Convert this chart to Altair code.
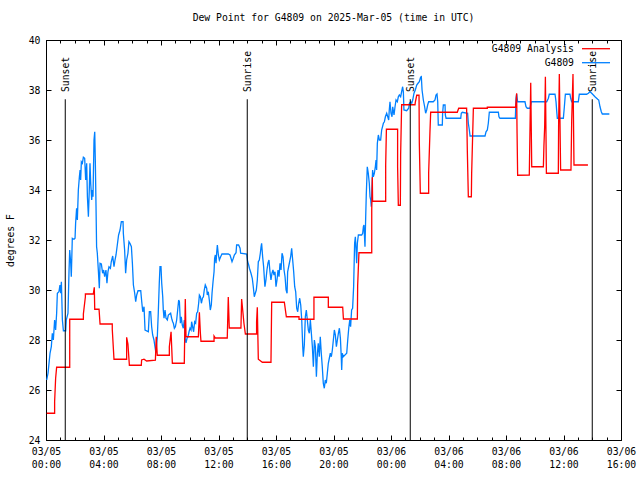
import altair as alt
import pandas as pd

# ---------------- data (hours since 2025-03-05 00:00 UTC, dew point in F) -------------
blue_hours = [
    0.05, 0.14, 0.28, 0.37, 0.44, 0.51, 0.60, 0.67, 0.74, 0.79, 0.90, 0.97, 1.02, 1.07, 1.14,
    1.21, 1.37, 1.41, 1.53, 1.60, 1.65, 1.72, 1.76, 1.83, 1.95, 2.02, 2.06, 2.13, 2.18, 2.25,
    2.32, 2.37, 2.41, 2.46, 2.53, 2.60, 2.69, 2.76, 2.83, 2.88, 2.95, 3.01, 3.06, 3.11, 3.18,
    3.22, 3.27, 3.34, 3.39, 3.43, 3.48, 3.52, 3.57, 3.64, 3.71, 3.76, 3.85, 3.94, 4.01, 4.08,
    4.17, 4.24, 4.31, 4.38, 4.48, 4.54, 4.64, 4.73, 4.80, 4.87, 4.96, 5.05, 5.15, 5.24, 5.36,
    5.38, 5.47, 5.54, 5.61, 5.70, 5.77, 5.84, 5.94, 6.01, 6.08, 6.17, 6.24, 6.31, 6.40, 6.59,
    6.66, 6.73, 6.82, 6.89, 7.12, 7.19, 7.28, 7.35, 7.42, 7.51, 7.58, 7.65, 7.70, 7.74, 7.81,
    7.88, 7.93, 8.00, 8.05, 8.12, 8.16, 8.21, 8.28, 8.35, 8.44, 8.51, 8.67, 8.74, 8.81, 8.86,
    8.93, 9.00, 9.09, 9.16, 9.23, 9.28, 9.35, 9.41, 9.48, 9.55, 9.62, 9.69, 9.74, 9.81, 9.88,
    9.95, 10.02, 10.09, 10.13, 10.20, 10.27, 10.34, 10.41, 10.48, 10.55, 10.62, 10.67, 10.74,
    10.81, 10.88, 10.95, 11.01, 11.08, 11.18, 11.22, 11.29, 11.36, 11.43, 11.50, 11.55, 11.62,
    11.69, 11.73, 11.78, 11.83, 11.87, 11.92, 11.99, 12.06, 12.15, 12.24, 12.68, 12.80, 12.87,
    12.94, 13.03, 13.10, 13.22, 13.26, 13.40, 13.50, 13.54, 13.96, 14.03, 14.10, 14.15, 14.19,
    14.26, 14.35, 14.42, 14.49, 14.56, 14.63, 14.70, 14.77, 14.84, 14.91, 14.96, 15.00, 15.07,
    15.14, 15.19, 15.23, 15.30, 15.37, 15.44, 15.51, 15.58, 15.65, 15.72, 15.79, 15.86, 15.93,
    16.00, 16.07, 16.14, 16.21, 16.28, 16.35, 16.42, 16.49, 16.56, 16.63, 16.70, 16.77, 16.81,
    16.88, 16.95, 17.02, 17.09, 17.16, 17.23, 17.30, 17.37, 17.44, 17.51, 17.58, 17.65, 17.72,
    17.79, 17.86, 17.90, 17.97, 18.04, 18.11, 18.18, 18.25, 18.32, 18.39, 18.46, 18.53, 18.60,
    18.67, 18.74, 18.81, 18.88, 18.94, 19.01, 19.08, 19.15, 19.22, 19.29, 19.36, 19.43, 19.50,
    19.57, 19.64, 19.71, 19.78, 19.85, 19.92, 19.99, 20.06, 20.13, 20.20, 20.27, 20.34, 20.41,
    20.48, 20.54, 20.57, 20.61, 20.68, 20.92, 20.99, 21.06, 21.13, 21.19, 21.26, 21.33, 21.40,
    21.45, 21.47, 21.52, 21.57, 21.61, 21.66, 21.73, 21.96, 22.03, 22.08, 22.12, 22.19, 22.24,
    22.28, 22.35, 22.42, 22.49, 22.54, 22.59, 22.63, 22.68, 22.72, 22.77, 22.84, 22.91, 22.96,
    23.00, 23.05, 23.12, 23.19, 23.28, 23.35, 23.47, 23.54, 23.61, 23.70, 23.84, 23.88, 23.93,
    24.00, 24.07, 24.12, 24.21, 24.28, 24.35, 24.44, 24.51, 24.58, 24.67, 24.74, 24.81, 24.86,
    24.90, 25.09, 25.23, 25.28, 25.37, 25.44, 25.51, 25.60, 25.69, 25.79, 25.88, 25.97, 26.06,
    26.11, 26.16, 26.25, 26.34, 26.41, 26.48, 26.55, 26.62, 26.94, 27.06, 27.13, 27.20, 27.25,
    27.29, 27.57, 27.59, 27.64, 27.76, 27.78, 27.83, 28.85, 28.89, 28.96, 29.33, 29.38, 29.45,
    29.50, 30.54, 30.61, 30.70, 30.77, 30.84, 31.47, 31.51, 31.58, 32.65, 32.70, 32.74, 32.81,
    33.32, 33.39, 33.48, 33.67, 33.76, 34.83, 34.95, 35.01, 35.41, 35.48, 35.53, 35.57, 35.99,
    36.06, 36.13, 36.45, 36.50, 36.57, 37.03, 37.10, 37.61, 37.73, 37.84, 37.96, 38.19, 38.38,
    38.45, 38.54, 38.63, 38.70, 39.19,
]
blue_values = [
    26.40, 26.67, 27.47, 27.73, 28.27, 28.00, 28.80, 28.40, 29.07, 29.87, 29.93, 30.20, 29.87, 30.33, 28.80,
    28.37, 28.37, 28.80, 29.07, 30.73, 31.60, 31.07, 30.53, 32.07, 32.03, 32.07, 32.67, 33.27, 32.80, 34.00,
    34.51, 34.80, 34.40, 35.13, 35.07, 35.31, 35.27, 34.40, 35.07, 33.73, 32.93, 34.00, 35.07, 34.27, 33.60,
    34.00, 33.73, 36.00, 36.33, 35.20, 33.33, 31.73, 31.47, 30.80, 30.07, 31.07, 31.04, 30.67, 30.80, 30.53,
    30.80, 30.27, 30.73, 30.93, 30.87, 31.13, 31.36, 30.93, 31.20, 31.40, 31.80, 32.20, 32.40, 32.73, 32.73,
    32.27, 31.60, 30.67, 31.20, 31.47, 31.93, 31.87, 31.73, 31.07, 30.20, 29.87, 29.53, 29.80, 29.97, 29.97,
    29.53, 29.13, 29.33, 28.40, 28.33, 29.13, 29.13, 28.53, 28.20, 28.00, 27.73, 27.47, 27.87, 28.07, 29.07,
    30.27, 30.93, 30.93, 30.27, 29.73, 29.20, 28.87, 29.20, 28.87, 28.80, 29.00, 29.07, 28.87, 28.73, 28.67,
    28.47, 28.53, 28.80, 29.20, 29.60, 29.53, 28.67, 28.93, 28.60, 28.47, 28.80, 28.00, 27.89, 28.07, 28.13,
    28.33, 28.47, 28.40, 28.73, 28.53, 28.33, 28.73, 28.67, 29.07, 29.13, 29.47, 29.80, 29.73,
    29.47, 29.67, 29.73, 30.00, 30.20, 30.07, 29.80, 29.93, 29.60, 29.20, 29.40, 29.87, 30.33,
    30.73, 31.27, 31.40, 31.07, 31.47, 31.80, 31.40, 31.20, 31.33, 31.44, 31.44, 31.40, 31.27,
    31.13, 31.27, 31.40, 31.49, 31.80, 31.80, 31.67, 31.47, 31.44, 31.13, 31.00, 30.87, 30.80,
    30.67, 30.47, 30.13, 29.73, 29.87, 30.00, 30.40, 31.13, 31.20, 31.47, 31.73, 31.87, 31.33,
    30.93, 30.47, 30.13, 30.40, 30.80, 31.07, 31.20, 30.73, 30.40, 30.67, 30.80, 30.60, 30.73,
    30.13, 30.40, 30.80, 30.53, 31.07, 30.80, 31.47, 31.33, 30.80, 30.53, 30.00, 29.87, 30.73,
    30.93, 31.13, 31.33, 31.67, 31.20, 30.73, 30.13, 29.93, 29.27, 29.13, 29.47, 29.67, 29.40,
    28.80, 27.73, 27.33, 27.80, 28.93, 29.20, 28.80, 28.40, 28.27, 28.80, 28.27, 27.73, 26.93,
    28.00, 27.73, 26.53, 27.47, 27.87, 27.33, 28.13, 27.47, 26.93, 26.27, 26.07, 26.40, 26.27,
    26.67, 27.07, 27.27, 27.47, 27.33, 27.60, 28.00, 28.40, 28.20, 27.73, 28.00, 28.27, 28.47,
    28.07, 27.33, 26.80, 27.47, 27.33, 27.47, 28.00, 28.47, 28.80, 28.53, 29.20, 29.27, 30.13,
    31.40, 31.87, 32.13, 31.60, 31.07, 31.87, 32.20, 32.20, 32.27, 32.53, 32.60, 31.73, 32.93,
    33.80, 34.93, 34.67, 34.27, 33.73, 33.60, 33.33, 34.13, 34.80, 34.53, 34.67, 34.93, 35.20,
    34.80, 35.87, 36.20, 36.00, 36.00, 36.40, 36.67, 36.73, 36.93, 37.07, 36.80, 37.20, 37.53,
    37.07, 36.93, 37.33, 37.00, 37.33, 37.60, 37.53, 37.73, 37.80, 37.73, 37.93, 38.13, 37.93,
    37.20, 37.17, 37.27, 37.47, 37.53, 37.47, 37.60, 37.87, 38.00, 38.20, 38.27, 38.33, 38.51,
    38.53, 38.00, 37.60, 37.33, 37.07, 37.20, 37.40, 37.53, 37.53, 37.60, 37.80, 37.84, 37.53,
    36.60, 36.60, 37.07, 37.40, 37.40, 37.00, 36.87, 36.87, 37.07, 37.11, 37.07, 36.67, 36.40,
    36.16, 36.16, 36.33, 36.40, 36.67, 37.11, 37.11, 36.93, 36.87, 36.87, 37.67, 37.84, 37.53,
    37.53, 37.33, 37.27, 37.27, 37.53, 37.53, 37.67, 37.83, 37.83, 37.53, 37.13, 36.87, 36.87,
    37.33, 37.83, 37.83, 37.67, 37.53, 37.53, 37.83, 37.83, 37.87, 37.93, 37.87, 37.73, 37.63,
    37.60, 37.33, 37.13, 37.04, 37.04,
]

red_hours = [
    0.05, 0.60, 0.60, 0.67, 0.74, 1.65, 1.65, 2.60, 2.60, 2.74, 2.74, 3.29, 3.36, 3.39, 3.69,
    3.76, 4.61, 4.61, 4.73, 5.61, 5.61, 5.70, 5.80, 6.63, 6.65, 6.82, 7.00, 7.61, 7.67, 7.74,
    8.58, 8.58, 8.70, 8.79, 9.62, 9.69, 9.74, 10.60, 10.67, 10.74, 10.78, 11.69, 11.69, 11.78,
    12.61, 12.68, 12.75, 13.56, 13.61, 13.77, 13.87, 14.65, 14.65, 14.70, 14.77, 15.05, 15.65,
    15.70, 16.58, 16.72, 17.60, 17.60, 18.64, 18.64, 19.64, 19.64, 20.64, 20.69, 21.66, 21.68,
    21.77, 22.66, 22.66, 22.70, 22.72, 23.63, 23.63, 23.68, 24.46, 24.46, 24.51, 24.65, 24.67,
    24.74, 25.67, 25.69, 25.79, 25.95, 25.97, 26.04, 26.62, 26.62, 26.71, 26.76, 28.61, 28.71,
    29.26, 29.31, 29.38, 29.59, 29.61, 29.73, 30.70, 30.70, 32.67, 32.74, 32.77, 32.81, 33.62,
    33.67, 33.72, 33.79, 34.60, 34.64, 34.69, 34.74, 34.81, 35.64, 35.66, 35.71, 35.80, 36.52,
    36.57, 36.66, 36.73, 37.70,
]
red_values = [
    25.07, 25.07, 25.53, 26.47, 26.91, 26.91, 28.83, 28.83, 29.04, 29.73, 29.84, 29.84, 30.11, 29.23, 29.23,
    28.64, 28.64, 28.43, 27.23, 27.23, 28.11, 27.84, 26.99, 26.99, 27.20, 27.23, 27.16, 27.19, 28.13, 27.39,
    27.39, 27.73, 28.33, 27.07, 27.07, 29.64, 28.13, 28.13, 29.11, 28.27, 27.95, 27.95, 28.16, 28.08,
    28.08, 29.72, 28.48, 28.48, 29.64, 28.67, 28.24, 28.24, 28.73, 29.31, 27.23, 27.11, 27.11,
    29.51, 29.51, 28.93, 28.93, 28.83, 28.83, 29.71, 29.71, 29.31, 29.31, 28.84, 28.84, 30.17,
    31.49, 31.49, 33.20, 34.51, 33.55, 33.55, 35.00, 36.43, 36.43, 34.93, 33.39, 33.39, 35.40,
    37.41, 37.41, 37.51, 37.79, 37.79, 35.89, 33.87, 33.87, 34.69, 36.33, 37.11, 37.11, 37.27,
    37.27, 35.56, 33.73, 33.73, 34.64, 37.27, 37.27, 37.31, 37.31, 37.87, 36.27, 34.59, 34.60,
    36.47, 38.29, 34.93, 34.93, 35.80, 36.53, 38.53, 34.67, 34.67, 36.60, 38.64, 34.80, 34.80,
    36.77, 38.64, 35.00, 35.00,
]

sun_hours = [1.34, 14.00, 25.34, 38.00]
sun_labels = ["Sunset", "Sunrise", "Sunset", "Sunrise"]
sun_line_top = 37.63
sun_label_base = 37.92

x_major = list(range(0, 41, 4))
x_minor = list(range(0, 41, 1))
y_major = list(range(24, 41, 2))

series_names = ["G4809 Analysis", "G4809"]
series_colors = ["#ff0000", "#0080ff"]

FONT = "DejaVu Sans Mono"
FS = 9.75

blue_df = pd.DataFrame({"h": blue_hours, "v": blue_values, "i": list(range(len(blue_hours)))})
red_df = pd.DataFrame({"h": red_hours, "v": red_values, "i": list(range(len(red_hours)))})
sun_df = pd.DataFrame({"h": sun_hours, "label": sun_labels,
                       "top": [sun_line_top] * 4, "bottom": [24] * 4,
                       "lab": [sun_label_base] * 4})

xs = alt.Scale(domain=[0, 40], nice=False, zero=False)
ys = alt.Scale(domain=[24, 40], nice=False, zero=False)


def tick_axis(orient, values, size, **kw):
    base = dict(orient=orient, values=values, tickSize=size, offset=-size, domain=False,
                grid=False, title=None, tickColor="black", tickWidth=1)
    base.update(kw)
    if "labels" not in base:
        base["labels"] = False
    return alt.Axis(**base)


label_expr = ("[datum.value < 24 ? '03/05' : '03/06', "
              "format(datum.value % 24, '02d') + ':00']")

x_main_axis = tick_axis("bottom", x_major, 5, labels=True, labelExpr=label_expr,
                        labelPadding=6, labelLineHeight=13, labelFlush=False,
                        labelOverlap=False, labelBaseline="top", labelAlign="center",
                        labelFont=FONT, labelFontSize=FS, labelColor="black")
y_main_axis = tick_axis("left", y_major, 5, labels=True, labelPadding=6,
                        labelFont=FONT, labelFontSize=FS, labelColor="black",
                        title="degrees F", titleFont=FONT, titleFontSize=FS,
                        titleFontWeight="normal", titleColor="black",
                        titleAngle=270, titleX=-41, titleY=200,
                        titleAlign="center", titleBaseline="middle")

sun_rules = alt.Chart(sun_df).mark_rule(color="black", strokeWidth=1).encode(
    x=alt.X("h:Q", scale=xs, axis=tick_axis("top", x_major, 5)),
    y=alt.Y("top:Q", scale=ys, axis=None),
    y2="bottom:Q",
)

sun_text = alt.Chart(sun_df).mark_text(
    angle=270, align="left", baseline="middle", font=FONT, fontSize=FS, color="black", dy=1
).encode(
    x=alt.X("h:Q", scale=xs, axis=tick_axis("top", x_minor, 3)),
    y=alt.Y("lab:Q", scale=ys, axis=None),
    text="label:N",
)

red_line = alt.Chart(red_df).mark_line(color=series_colors[0], strokeWidth=1.3).encode(
    x=alt.X("h:Q", scale=xs, axis=tick_axis("bottom", x_minor, 3)),
    y=alt.Y("v:Q", scale=ys, axis=tick_axis("right", y_major, 5)),
    order="i:Q",
)

blue_line = alt.Chart(blue_df).mark_line(color=series_colors[1], strokeWidth=1.3).encode(
    x=alt.X("h:Q", scale=xs, axis=x_main_axis),
    y=alt.Y("v:Q", scale=ys, axis=y_main_axis),
    order="i:Q",
)

legend_layers = []
for k, (name, col) in enumerate(zip(series_names, series_colors)):
    ypix = 8.7 + 14 * k
    legend_layers.append(
        alt.Chart(alt.Data(values=[{"name": name}])).mark_rule(color=col, strokeWidth=1.3).encode(
            x=alt.value(536), x2=alt.value(564), y=alt.value(ypix)
        )
    )
    legend_layers.append(
        alt.Chart(alt.Data(values=[{"name": name}])).mark_text(
            align="right", baseline="middle", font=FONT, fontSize=FS, color="black"
        ).encode(x=alt.value(528), y=alt.value(ypix), text="name:N")
    )

chart = alt.layer(blue_line, red_line, sun_rules, sun_text, *legend_layers).resolve_axis(
    x="independent", y="independent"
).properties(
    width=575,
    height=400,
    autosize=alt.AutoSizeParams(type="none"),
    padding={"left": 46, "top": 40, "right": 19, "bottom": 40},
    background="white",
    title=alt.TitleParams(
        text="Dew Point for G4809 on 2025-Mar-05 (time in UTC)",
        font=FONT, fontSize=FS, fontWeight="normal", color="black",
        anchor="middle", offset=12,
    ),
).configure_view(stroke="black", strokeWidth=1)

chart.save("out.html", embed_options={"renderer": "svg", "actions": False})
